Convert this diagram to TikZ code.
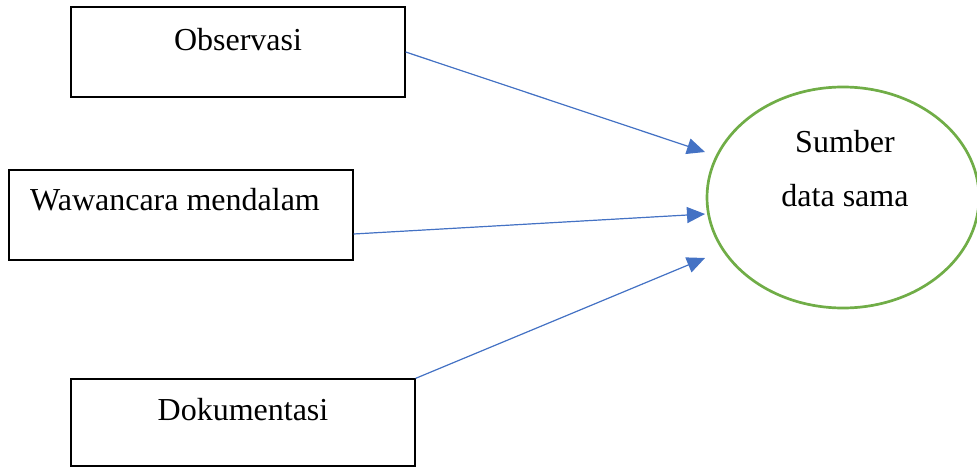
\documentclass[tikz,border=0pt]{standalone}
\usepackage{fontspec}
\setmainfont{Liberation Serif}
\usetikzlibrary{arrows.meta,shapes.geometric}
\definecolor{arrowblue}{HTML}{4472C4}
\definecolor{circgreen}{HTML}{70AD47}
\begin{document}
\begin{tikzpicture}[x=1pt,y=-1pt,
        box/.style={draw, line width=1.3pt, rectangle, inner sep=0pt},
        txt/.style={font=\fontsize{32}{54}\selectfont, inner sep=0pt, align=center},
        conn/.style={draw=arrowblue, line width=1.2pt, -{Triangle[length=18pt,width=16pt]}, fill=arrowblue}]
                \useasboundingbox (0,0) rectangle (977,468);
                % boxes on the left
                \node[box, minimum width=334pt, minimum height=90pt] (obs) at (238,52) {};
                \node[txt] at (238,40) {Observasi};
                \node[box, minimum width=344pt, minimum height=90pt] (waw) at (181,215) {};
                \node[txt] at (175,200) {Wawancara mendalam};
                \node[box, minimum width=344pt, minimum height=87pt] (dok) at (243,422.5) {};
                \node[txt] at (243,410) {Dokumentasi};
                % source
                \node[ellipse, draw=circgreen, line width=2.7pt,
                    minimum width=272pt, minimum height=221pt] (src) at (843,197.5) {};
                \node[txt] at (845,169) {Sumber\\data sama};
                % arrow ends
                \coordinate (e1) at (705,152);
                \coordinate (e2) at (705,214);
                \coordinate (e3) at (705,258);
                \draw[conn] (obs.east) -- (e1);
                \draw[conn] ([yshift=-19pt]waw.east) -- (e2);
                \draw[conn] (dok.north east) -- (e3);
            \end{tikzpicture}
\end{document}
